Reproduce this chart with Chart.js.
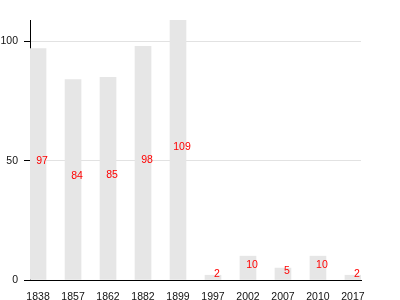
<!DOCTYPE html>
<html>
<head>
<meta charset="utf-8">
<script src="https://cdn.jsdelivr.net/npm/chart.js@4"></script>
<style>
  html, body { margin: 0; padding: 0; background: #fff; }
  #wrap { width: 400px; height: 300px; }
</style>
</head>
<body>
<div id="wrap"><canvas id="barChart"></canvas></div>
<script>
// categories and values
const years = ["1838", "1857", "1862", "1882", "1899", "1997", "2002", "2007", "2010", "2017"];
const counts = [97, 84, 85, 98, 109, 2, 10, 5, 10, 2];
const yTicks = [0, 50, 100];

// red value labels in the middle of each bar
const valueLabels = {
    id: "valueLabels",
    afterDatasetsDraw(chart) {
        const ctx = chart.ctx;
        const meta = chart.getDatasetMeta(0);
        ctx.save();
        ctx.fillStyle = "#ff0000";
        ctx.font = "10.5px 'Liberation Sans', Arial, sans-serif";
        ctx.textAlign = "center";
        ctx.textBaseline = "middle";
        meta.data.forEach((bar, i) => {
            const y = (bar.y + bar.base) / 2 - 3;
            ctx.fillText(String(counts[i]), bar.x + 4, y);
        });
        ctx.restore();
    }
};

const ctx = document.getElementById("barChart").getContext("2d");
new Chart(ctx, {
    type: "bar",
    data: {
        datasets: [{
            data: counts.map((v, i) => ({ x: i, y: v })),
            backgroundColor: "#e6e6e6",
            borderWidth: 0,
            barThickness: 16
        }]
    },
    options: {
        responsive: true,
        maintainAspectRatio: false,
        animation: false,
        layout: { padding: { top: 20, right: 39, bottom: 0, left: 0 } },
        plugins: {
            legend: { display: false },
            tooltip: { enabled: false }
        },
        scales: {
            x: {
                type: "linear",
                offset: false,
                min: -0.23,
                max: years.length - 1 + 0.23,
                grid: { display: false, offset: false },
                border: { display: true, color: "#000", width: 1 },
                afterBuildTicks: s => { s.ticks = years.map((_, i) => ({ value: i })); },
                afterFit: s => { s.height = 20; },
                ticks: {
                    autoSkip: false,
                    maxRotation: 0,
                    padding: 3,
                    color: "#111",
                    font: { family: "'Liberation Sans', Arial, sans-serif", size: 10.5 },
                    callback: v => years[v]
                }
            },
            y: {
                min: 0,
                max: Math.max(...counts),
                grid: { color: "#e2e2e2", tickColor: "#000", tickLength: 6 },
                border: { display: true, color: "#000", width: 1 },
                afterBuildTicks: s => { s.ticks = yTicks.map(v => ({ value: v })); },
                afterFit: s => { s.width = 30; },
                ticks: {
                    padding: 6,
                    color: "#111",
                    font: { family: "'Liberation Sans', Arial, sans-serif", size: 10.5 }
                }
            }
        }
    },
    plugins: [valueLabels]
});
</script>
</body>
</html>
